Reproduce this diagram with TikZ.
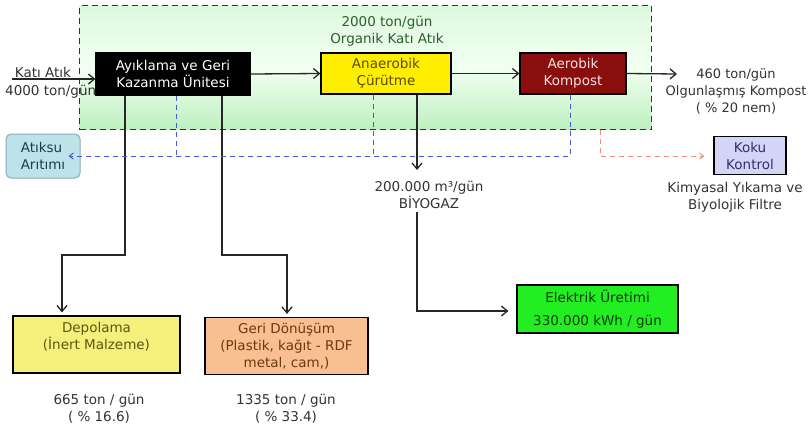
\documentclass[tikz,border=0pt]{standalone}
\usepackage{fontspec}
\setmainfont{DejaVu Sans}
\usetikzlibrary{arrows.meta,calc}
\definecolor{zonegreenA}{HTML}{DDF8DD}
\definecolor{zonegreenB}{HTML}{BDF0BF}
\definecolor{zoneedge}{HTML}{2A3A2A}
\definecolor{yel}{HTML}{FFEE00}
\definecolor{yeltext}{HTML}{5A4C00}
\definecolor{darkred}{HTML}{8A0E0E}
\definecolor{redtext}{HTML}{F6E0E0}
\definecolor{lav}{HTML}{D4D4F7}
\definecolor{lavtext}{HTML}{303070}
\definecolor{teal}{HTML}{BEE2EA}
\definecolor{tealedge}{HTML}{8AAAB2}
\definecolor{tealtext}{HTML}{1E3A50}
\definecolor{elgreen}{HTML}{22EE22}
\definecolor{eltext}{HTML}{0A3A0A}
\definecolor{depofill}{HTML}{F5EF7C}
\definecolor{depotext}{HTML}{5E5610}
\definecolor{gerifill}{HTML}{F8C090}
\definecolor{geritext}{HTML}{6A3A10}
\definecolor{txt}{HTML}{333333}
\definecolor{orgtext}{HTML}{2E5E2E}
\definecolor{bluedash}{HTML}{4A5AD6}
\definecolor{reddash}{HTML}{E89078}
\tikzset{
  every node/.style={font=\fontsize{13.5}{17}\selectfont, align=center, inner sep=0pt},
  procbox/.style={draw=black, line width=1.2pt, minimum width=#1},
  lbl/.style={text=txt},
  arr/.style={line width=1.3pt, draw=black!85, -{Straight Barb[length=6pt,width=10pt]}},
  bdash/.style={line width=1pt, draw=bluedash, dash pattern=on 5pt off 4pt},
  rdash/.style={line width=1pt, draw=reddash, dash pattern=on 5pt off 4pt}
}
\begin{document}
\begin{tikzpicture}[x=1pt,y=-1pt]
\useasboundingbox[fill=white] (0,0) rectangle (810,426);

% green zone
\node (zone) [anchor=north west, minimum width=572pt, minimum height=124pt,
  top color=zonegreenA, bottom color=zonegreenB, middle color=green!5,
  draw=zoneedge, line width=1.3pt, dash pattern=on 6pt off 4pt] at (79,5) {};

% input labels (drawn before the black box so it covers them)
\node (katiatik) [lbl, anchor=base] at (43,77) {Katı Atık};
\node (ton4000) [lbl, anchor=base west] at (5,95) {4000 ton/gün};

% process boxes
\node (ayik) [procbox=154pt, fill=black, text=white, minimum height=42pt] at (173,74) {Ayıklama ve Geri\\Kazanma Ünitesi};
\node (anae) [procbox=130pt, fill=yel, text=yeltext, minimum height=41pt] at (386,73.5) {Anaerobik\\Çürütme};
\node (aero) [procbox=106pt, fill=darkred, text=redtext, minimum height=41pt] at (573,73.5) {Aerobik\\Kompost};
\node (koku) [procbox=72pt, fill=lav, text=lavtext, minimum height=38pt] at (750,155.5) {Koku\\Kontrol};
\node (atiksu) [draw=tealedge, line width=1pt, rounded corners=5pt, fill=teal, text=tealtext, minimum width=74pt, minimum height=44pt, align=left] at (43,156) {Atıksu\\Arıtımı};
\node (elek) [procbox=161pt, fill=elgreen, text=eltext, minimum height=48pt, font=\fontsize{13.5}{23}\selectfont] at (597.5,309) {Elektrik Üretimi\\330.000 kWh / gün};
\node (depo) [procbox=167pt, fill=depofill, text=depotext, minimum height=57pt] at (96.5,344.5) {Depolama\\(İnert Malzeme)\\\mbox{}};
\node (geri) [procbox=163pt, fill=gerifill, text=geritext, minimum height=57pt] at (286.5,346) {Geri Dönüşüm\\(Plastik, kağıt - RDF\\metal, cam,)};

% free texts
\node (organik) [text=orgtext] at (387,31) {2000 ton/gün\\Organik Katı Atık};
\node (kompost) [lbl, font=\fontsize{13}{17}\selectfont] at (736,91) {460 ton/gün\\Olgunlaşmış Kompost\\( \% 20 nem)};
\node (kimya) [lbl] at (735,197) {Kimyasal Yıkama ve\\Biyolojik Filtre};
\node (biyo) [lbl] at (429,195) {200.000 m³/gün\\BİYOGAZ};
\node (depoq) [lbl] at (99,409) {665 ton / gün\\( \% 16.6)};
\node (geriq) [lbl] at (286,409) {1335 ton / gün\\( \% 33.4)};

% coordinates
\coordinate (kin) at (12,79);
\coordinate (kout) at (677,74);
\coordinate (j1) at (125,255);
\coordinate (d1) at (62,255);
\coordinate (j2) at (222,255);
\coordinate (d2) at (287,255);
\coordinate (w1) at (176,156);
\coordinate (w2) at (373,156);
\coordinate (w3) at (570,156);
\coordinate (b1) at (417,170);
\coordinate (b2) at (417,311);
\coordinate (k1) at (600,156);

% main flow
\draw[arr] (kin) -- (kin -| ayik.west);
\draw[arr] (ayik.east) -- (anae.west);
\draw[arr] (anae.east) -- (aero.west);
\draw[arr] (aero.east) -- (kout);

% sorting outputs
\draw[arr, shorten >=3pt] (ayik.south -| j1) -- (j1) -- (d1) -- (d1 |- depo.north);
\draw[arr, shorten >=3pt] (ayik.south -| j2) -- (j2) -- (d2) -- (d2 |- geri.north);

% wastewater
\draw[bdash] (ayik.south -| w1) -- (w1);
\draw[bdash] (anae.south -| w2) -- (w2);
\draw[bdash, -{Straight Barb[length=4pt,width=6pt]}, shorten >=-12pt] (aero.south -| w3) -- (w3) -- (atiksu.east);

% biogas
\draw[arr] (anae.south -| b1) -- (b1);
\draw[arr, shorten >=8pt] (biyo.south -| b2) ++(0,3) -- (b2) -- (elek.west |- b2);

% odour
\draw[rdash, -{Straight Barb[length=4pt,width=6pt]}, shorten >=9pt] (zone.south -| k1) -- (k1) -- (koku.west |- k1);
\end{tikzpicture}
\end{document}
